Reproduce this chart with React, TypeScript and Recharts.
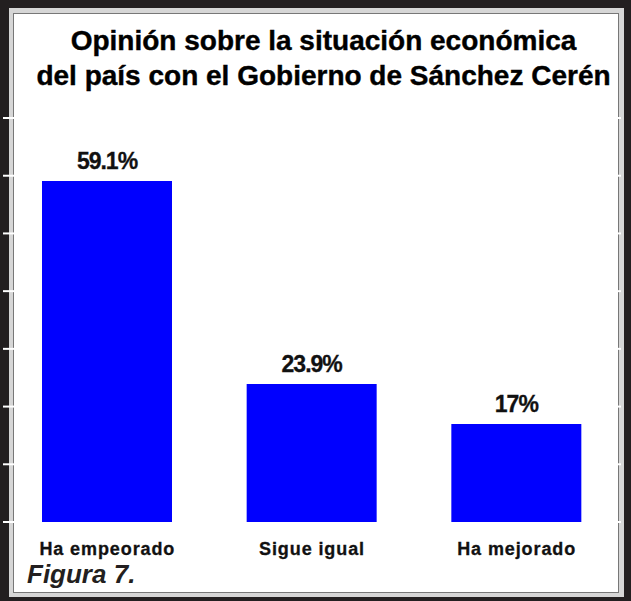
import React from 'react';
import { BarChart, Bar, XAxis, YAxis, LabelList } from 'recharts';

const categories = ['Ha empeorado', 'Sigue igual', 'Ha mejorado'];
const values = [59.1, 23.9, 17];
const yTicks = [0, 10, 20, 30, 40, 50, 60, 70];

const data = categories.map((name, i) => ({ name, value: values[i] }));

const FONT = 'Arial, "Liberation Sans", Helvetica, sans-serif';

// white notches across the frame at each y tick
function FrameTick(props: any) {
  const { y } = props;
  return (
    <g>
      <line x1={3} x2={14} y1={y} y2={y} stroke="#ffffff" strokeWidth={2} />
      <line x1={615} x2={621} y1={y} y2={y} stroke="#ffffff" strokeWidth={2} />
    </g>
  );
}

function CategoryTick(props: any) {
  const { x, y, payload } = props;
  return (
    <text
      x={x}
      y={y + 33}
      textAnchor="middle"
      fill="#111"
      stroke="#111"
      strokeWidth={0.3}
      fontFamily={FONT}
      fontWeight="bold"
      fontSize={18}
      letterSpacing={0.9}
    >
      {payload.value}
    </text>
  );
}

function ValueLabel(props: any) {
  const { x, y, width, value } = props;
  return (
    <text
      x={x + width / 2}
      y={y - 12}
      textAnchor="middle"
      fill="#111"
      stroke="#111"
      strokeWidth={0.3}
      fontFamily={FONT}
      fontWeight="bold"
      fontSize={23}
      letterSpacing={-1}
    >
      {`${value}%`}
    </text>
  );
}

export default function App() {
  return (
    <div
      style={{
        position: 'absolute',
        left: 0,
        top: 0,
        width: 631,
        height: 601,
        overflow: 'hidden',
        background: '#231f20',
      }}
    >
      <div style={{ position: 'absolute', left: 9, top: 8, width: 615, height: 589, background: '#d6d6d6' }} />
      <div
        style={{
          position: 'absolute',
          left: 13,
          top: 13,
          width: 606,
          height: 580,
          boxSizing: 'border-box',
          border: '1px solid #777',
          background: '#fff',
        }}
      />
      <div
        style={{
          position: 'absolute',
          left: 0,
          top: 23,
          width: 647,
          textAlign: 'center',
          fontFamily: FONT,
          fontWeight: 'bold',
          fontSize: 28,
          lineHeight: '35px',
          color: '#000',
          WebkitTextStroke: '0.4px #000',
        }}
      >
        Opinión sobre la situación económica
        <br />
        del país con el Gobierno de Sánchez Cerén
      </div>
      <div
        style={{
          position: 'absolute',
          left: 27,
          top: 561,
          fontFamily: FONT,
          fontWeight: 'bold',
          fontStyle: 'italic',
          fontSize: 26,
          lineHeight: '26px',
          color: '#231f20',
        }}
      >
        Figura 7.
      </div>
      <div style={{ position: 'absolute', left: 0, top: 0 }}>
        <BarChart width={631} height={601} data={data} margin={{ top: 118, right: 12, left: 4, bottom: 39 }}>
          <XAxis
            dataKey="name"
            height={40}
            axisLine={false}
            tickLine={false}
            tickSize={0}
            tickMargin={0}
            tick={<CategoryTick />}
            interval={0}
          />
          <YAxis
            domain={[0, 70]}
            ticks={yTicks}
            width={1}
            interval={0}
            axisLine={false}
            tickLine={false}
            tick={<FrameTick />}
          />
          <Bar dataKey="value" fill="#0000ff" barSize={130} isAnimationActive={false}>
            <LabelList dataKey="value" content={<ValueLabel />} />
          </Bar>
        </BarChart>
      </div>
    </div>
  );
}
